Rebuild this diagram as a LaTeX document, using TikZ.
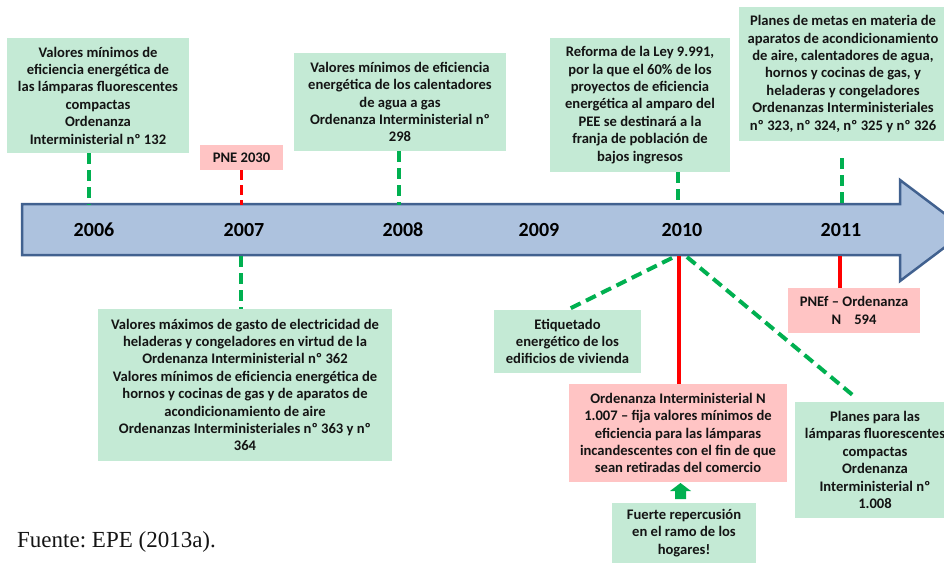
\documentclass[tikz,border=0pt]{standalone}
\usepackage{fontspec}
\setmainfont{Carlito}
\newfontfamily\srf{Liberation Serif}
\definecolor{gfill}{HTML}{C4EAD5}
\definecolor{pfill}{HTML}{FFC4C4}
\definecolor{afill}{HTML}{ADC2DE}
\definecolor{aline}{HTML}{41618F}
\definecolor{dgreen}{HTML}{00B050}
\definecolor{dred}{HTML}{FF0000}
\definecolor{txt}{HTML}{141414}
\frenchspacing
\begin{document}
\begin{tikzpicture}[x=1pt,y=-1pt,
  boxbase/.style={inner sep=0pt, align=center, text=txt,
    font=\bfseries\fontsize{14.6}{17.4}\selectfont},
  gbox/.style={boxbase, fill=gfill},
  pbox/.style={boxbase, fill=pfill},
  yearlbl/.style={anchor=base, inner sep=0pt, font=\bfseries\fontsize{20}{22}\selectfont, text=black},
  gdash/.style={draw=dgreen, line width=4pt, dash pattern=on 11pt off 6pt},
  rdash/.style={draw=dred, line width=3.5pt, dash pattern=on 10pt off 5pt},
  rline/.style={draw=dred, line width=4pt},
  arrowbody/.style={fill=afill, draw=aline, line width=2.5pt, line join=miter}
]
\useasboundingbox (0,0) rectangle (944,562);
\clip (0,0) rectangle (944,562);

% timeline arrow
\draw[arrowbody] (22,204) -- (900,204) -- (900,180) -- (967,230.5) -- (900,281) -- (900,255) -- (22,255) -- cycle;
\coordinate (atop) at (0,205);
\coordinate (abot) at (0,256);

% years
\node[yearlbl] (y2006) at (94,236) {2006};
\node[yearlbl] (y2007) at (244,236) {2007};
\node[yearlbl] (y2008) at (403,236) {2008};
\node[yearlbl] (y2009) at (539,236) {2009};
\node[yearlbl] (y2010) at (682,236) {2010};
\node[yearlbl] (y2011) at (841,236) {2011};

% boxes above
\node[gbox, minimum width=182pt, minimum height=115pt] (b2006) at (98,95.5)
  {Valores mínimos de\\eficiencia energética de\\las lámparas fluorescentes\\compactas\\Ordenanza\\Interministerial nº 132};
\node[pbox, minimum width=83pt, minimum height=25pt] (pne) at (241.5,157.5) {PNE 2030};
\node[gbox, minimum width=212pt, minimum height=98pt] (b2008) at (400,102)
  {Valores mínimos de eficiencia\\energética de los calentadores\\de agua a gas\\Ordenanza Interministerial nº\\298};
\node[gbox, minimum width=180pt, minimum height=134pt] (b2010) at (640,105)
  {Reforma de la Ley 9.991,\\por la que el 60\% de los\\proyectos de eficiencia\\energética al amparo del\\PEE se destinará a la\\franja de población de\\bajos ingresos};
\node[gbox, minimum width=208pt, minimum height=134pt] (b2011) at (843,74)
  {Planes de metas en materia de\\aparatos de acondicionamiento\\de aire, calentadores de agua,\\hornos y cocinas de gas, y\\heladeras y congeladores\\Ordenanzas Interministeriales\\nº 323, nº 324, nº 325 y nº 326};

% boxes below
\node[gbox, minimum width=294pt, minimum height=152pt] (b2007) at (245,385)
  {Valores máximos de gasto de electricidad de\\heladeras y congeladores en virtud de la\\Ordenanza Interministerial nº 362\\Valores mínimos de eficiencia energética de\\hornos y cocinas de gas y de aparatos de\\acondicionamiento de aire\\Ordenanzas Interministeriales nº 363 y nº\\364};
\node[gbox, minimum width=147pt, minimum height=63pt] (etiq) at (567.5,341.5)
  {Etiquetado\\energético de los\\edificios de vivienda};
\node[pbox, minimum width=218pt, minimum height=98pt] (o1007) at (678,433)
  {Ordenanza Interministerial N\\1.007 – fija valores mínimos de\\eficiencia para las lámparas\\incandescentes con el fin de que\\sean retiradas del comercio};
\node[pbox, minimum width=132pt, minimum height=45pt] (pnef) at (854,310.5)
  {PNEf – Ordenanza\\N\hspace{0.9em}594};
\node[gbox, minimum width=160pt, minimum height=116pt] (planes) at (875,460)
  {Planes para las\\lámparas fluorescentes\\compactas\\Ordenanza\\Interministerial nº\\1.008};
\node[gbox, minimum width=144pt, minimum height=60pt] (fuerte) at (684,533)
  {Fuerte repercusión\\en el ramo de los\\hogares!};

% connectors above
\coordinate (t2006) at (89,205);
\draw[gdash] (b2006.south -| t2006) -- (t2006);
\draw[rdash] (pne.south) -- (pne.south |- atop);
\draw[gdash] (b2008.south -| 399,0) -- (399,205);
\coordinate (t2010) at (678,205);
\draw[gdash] (b2010.south -| t2010) -- (t2010);
\coordinate (s2011) at (842,158);
\coordinate (t2011) at (842,205);
\draw[gdash] (s2011) -- (t2011);

% connectors below
\coordinate (u2007) at (241,256);
\draw[gdash] (u2007) -- (u2007 |- b2007.north);
\coordinate (u2010) at (679,256);
\draw[rline] (u2010) -- (u2010 |- o1007.north);
\coordinate (dl) at (672,258);
\draw[gdash] (dl) -- (etiq.north);
\coordinate (dr) at (687,257);
\coordinate (drend) at (855,397);
\draw[gdash] (dr) -- (drend);
\coordinate (u2011) at (840,256);
\draw[rline] (u2011) -- (u2011 |- pnef.north);

% small green block arrow
\fill[dgreen] (675,499) -- (675,491) -- (670,491) -- (680.5,483) -- (691,491) -- (686,491) -- (686,499) -- cycle;

% source
\node[anchor=base west, inner sep=0pt, font=\srf\fontsize{23}{26}\selectfont, text=txt] (src) at (17,547) {Fuente: EPE (2013a).};
\end{tikzpicture}
\end{document}
